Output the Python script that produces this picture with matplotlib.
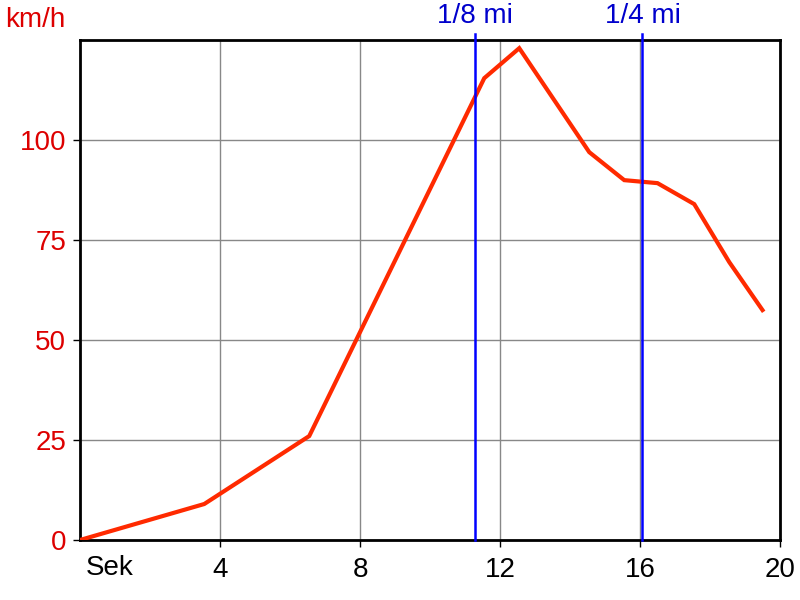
import matplotlib
matplotlib.use('Agg')
import matplotlib.pyplot as plt

# speed trace (seconds, km/h)
sec = [0, 3.55, 6.55, 7.75, 11.55, 12.55, 14.55, 15.55, 16.5, 17.55, 18.55, 19.5]
kmh = [0, 9, 26, 47.5, 115.5, 123, 97, 90, 89.25, 84, 69.5, 57.5]

# distance markers
mark_sec = [11.28, 16.07]
mark_labels = ['1/8 mi', '1/4 mi']

xticks = [4, 8, 12, 16, 20]
yticks = [0, 25, 50, 75, 100]

plt.rcParams['font.family'] = ['Liberation Sans', 'DejaVu Sans']
fs = 20

fig = plt.figure(figsize=(8, 6), dpi=100)
ax = fig.add_axes([0.1, 0.1, 0.875, 0.833])

ax.plot(sec, kmh, color='#ff2a00', linewidth=3, solid_joinstyle='miter', zorder=3)

for x, lab in zip(mark_sec, mark_labels):
    ax.axvline(x, color='#0000ff', linewidth=1.8, ymax=1.013, clip_on=False, zorder=4)
    ax.text(x, 1.022, lab, transform=ax.get_xaxis_transform(), color='#0000cc',
            ha='center', va='bottom', fontsize=fs)

ax.set_xlim(0, 20)
ax.set_ylim(0, 125)
ax.set_xticks(xticks)
ax.set_yticks(yticks)
ax.grid(True, color='#888888', linewidth=1)
ax.set_axisbelow(True)

ax.tick_params(axis='x', labelsize=fs, length=5, width=1, colors='black', pad=7)
ax.tick_params(axis='y', labelsize=fs, length=5, width=1, colors='black', labelcolor='#dd0000', pad=5)

for s in ax.spines.values():
    s.set_linewidth(2)
    s.set_color('black')

ax.text(0.008, -0.03, 'Sek', transform=ax.transAxes, ha='left', va='top', fontsize=fs)
fig.text(0.006, 0.988, 'km/h', color='#dd0000', ha='left', va='top', fontsize=fs)

fig.savefig('out.png', dpi=100)
